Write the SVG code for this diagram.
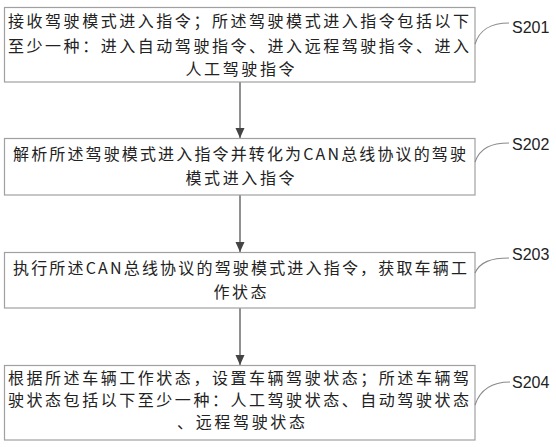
<svg xmlns="http://www.w3.org/2000/svg" width="556" height="447" viewBox="0 0 556 447">
<style>
.box{fill:#fff;stroke:#a0a0a0;stroke-width:1.2}
.t{font-family:"Noto Sans CJK SC","Noto Sans CJK JP",sans-serif;font-size:16px;fill:#222}
.c{text-anchor:middle}
.lbl{font-family:"Liberation Sans",Arial,sans-serif;font-size:16px;fill:#222}
.lead{fill:none;stroke:#8a8a8a;stroke-width:1.1}
.conn{stroke:#555;stroke-width:1.3;fill:none}
</style>
<defs>
<marker id="arr" markerUnits="userSpaceOnUse" markerWidth="10" markerHeight="12" refX="10" refY="4.5" orient="auto">
<path d="M0,0 L10,4.5 L0,9 Z" fill="#444"/>
</marker>
</defs>
<rect width="556" height="447" fill="#fff"/>
<g id="connectors">
<line class="conn" x1="240" y1="82" x2="240" y2="138" marker-end="url(#arr)"/>
<line class="conn" x1="240" y1="195" x2="240" y2="252" marker-end="url(#arr)"/>
<line class="conn" x1="240" y1="308" x2="240" y2="365" marker-end="url(#arr)"/>
</g>
<g id="S201">
<rect class="box" x="4.5" y="7.5" width="470.5" height="74.5"/>
<text class="t" x="8" y="27" textLength="461" lengthAdjust="spacing">接收驾驶模式进入指令；所述驾驶模式进入指令包括以下</text>
<text class="t" x="8" y="52" textLength="461" lengthAdjust="spacing">至少一种：进入自动驾驶指令、进入远程驾驶指令、进入</text>
<text class="t c" x="240" y="75" textLength="109" lengthAdjust="spacing">人工驾驶指令</text>
<path class="lead" d="M475,44 C480,29 491,23 509,23"/>
<text class="lbl" x="512" y="33">S201</text>
</g>
<g id="S202">
<rect class="box" x="4.5" y="138.5" width="470.5" height="56.5"/>
<text class="t" x="13" y="160" textLength="453" lengthAdjust="spacing">解析所述驾驶模式进入指令并转化为CAN总线协议的驾驶</text>
<text class="t c" x="240" y="184" textLength="109" lengthAdjust="spacing">模式进入指令</text>
<path class="lead" d="M475,162 C480,148 491,143 509,143"/>
<text class="lbl" x="512" y="150">S202</text>
</g>
<g id="S203">
<rect class="box" x="4.5" y="252.5" width="470.5" height="55.5"/>
<text class="t" x="13" y="274" textLength="454" lengthAdjust="spacing">执行所述CAN总线协议的驾驶模式进入指令，获取车辆工</text>
<text class="t c" x="240" y="298" textLength="53" lengthAdjust="spacing">作状态</text>
<path class="lead" d="M475,273 C480,262 491,258 509,258"/>
<text class="lbl" x="512" y="260">S203</text>
</g>
<g id="S204">
<rect class="box" x="4.5" y="365.5" width="470.5" height="74.5"/>
<text class="t" x="8" y="384" textLength="461" lengthAdjust="spacing">根据所述车辆工作状态，设置车辆驾驶状态；所述车辆驾</text>
<text class="t" x="8" y="406" textLength="461" lengthAdjust="spacing">驶状态包括以下至少一种：人工驾驶状态、自动驾驶状态</text>
<text class="t c" x="241" y="428" textLength="128" lengthAdjust="spacing">、远程驾驶状态</text>
<path class="lead" d="M475,405 C480,390 491,382 510,382"/>
<text class="lbl" x="512" y="388">S204</text>
</g>
</svg>
